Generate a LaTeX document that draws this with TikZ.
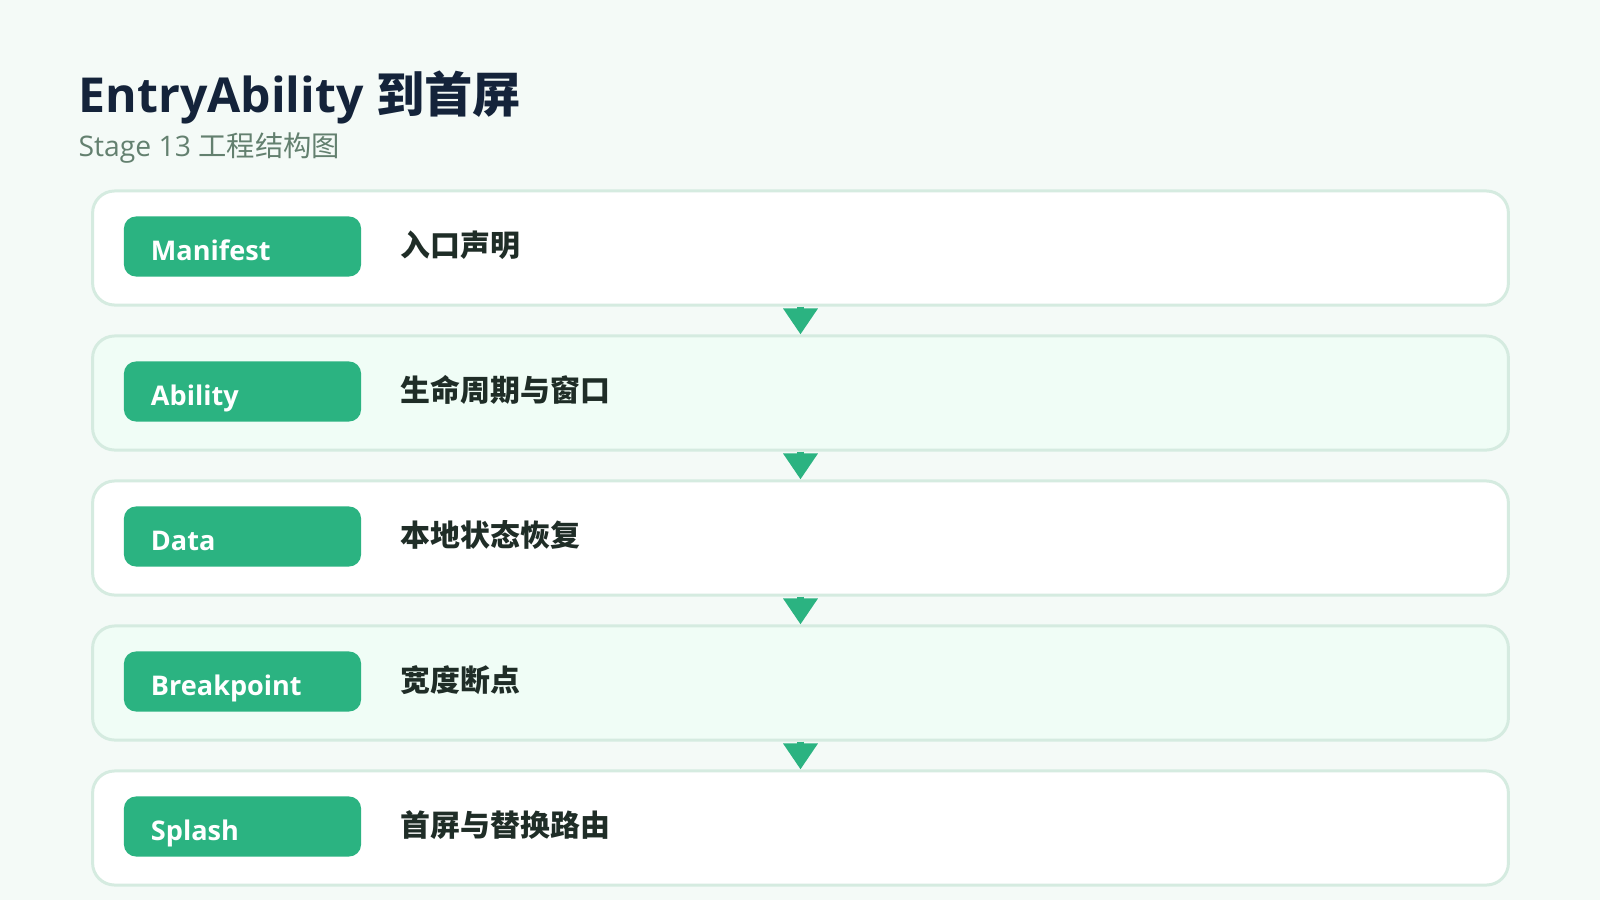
\documentclass[tikz,border=0pt]{standalone}
\usepackage{fontspec}
\setmainfont{Open Sans}
\newfontfamily\zh{Noto Sans CJK SC}
\usetikzlibrary{arrows.meta}

\definecolor{pagebg}{HTML}{F4FAF7}
\definecolor{rowline}{HTML}{D5EBE0}
\definecolor{rowmint}{HTML}{F0FDF6}
\definecolor{pillgreen}{HTML}{2BB381}
\definecolor{titleink}{HTML}{14233A}
\definecolor{subink}{HTML}{63806F}
\definecolor{rowink}{HTML}{1F2D27}

\begin{document}
\begin{tikzpicture}[x=0.01cm,y=-0.01cm,
    row/.style={draw=rowline, line width=0.85pt, rounded corners=0.22cm,
        minimum width=14.15cm, minimum height=1.14cm, inner sep=0pt},
    pill/.style={fill=pillgreen, rounded corners=0.12cm, text=white,
        font=\fontsize{7.7pt}{9pt}\selectfont\bfseries, text width=1.83cm,
        align=left, inner xsep=0.27cm, minimum height=0.6cm, inner ysep=0pt,
        text height=8.2pt, text depth=0pt},
    stage/.style={anchor=west, text=rowink, inner sep=0pt,
        font=\zh\fontsize{8.5pt}{10pt}\selectfont\bfseries},
    flow/.style={draw=pillgreen, line width=2pt,
        -{Triangle[width=9.4pt,length=7.4pt]}}]
    \fill[pagebg] (0,0) rectangle (1600,900);
    \useasboundingbox (0,0) rectangle (1600,900);

    \node[anchor=base west, inner sep=0pt, text=titleink,
        font=\fontsize{13.7pt}{16pt}\selectfont\bfseries] (title) at (78,112)
        {EntryAbility {\zh 到首屏}};
    \node[anchor=base west, inner sep=0pt, text=subink,
        font=\fontsize{8.05pt}{10pt}\selectfont] (subtitle) at (78,156)
        {Stage 13 {\zh 工程结构图}};

    \node[row, fill=white] (r1) at (800.5,248) {};
    \node[row, fill=rowmint] (r2) at (800.5,393) {};
    \node[row, fill=white] (r3) at (800.5,538) {};
    \node[row, fill=rowmint] (r4) at (800.5,683) {};
    \node[row, fill=white] (r5) at (800.5,828) {};

    \node[pill] (p1) at (242.5,246.5) {Manifest};
    \node[pill] (p2) at (242.5,391.5) {Ability};
    \node[pill] (p3) at (242.5,536.5) {Data};
    \node[pill] (p4) at (242.5,681.5) {Breakpoint};
    \node[pill] (p5) at (242.5,826.5) {Splash};

    \node[stage] (s1) at (400,245) {入口声明};
    \node[stage] (s2) at (400,390) {生命周期与窗口};
    \node[stage] (s3) at (400,535) {本地状态恢复};
    \node[stage] (s4) at (400,680) {宽度断点};
    \node[stage] (s5) at (400,825) {首屏与替换路由};

    % arrows between the stages
    \draw[flow] (r1) -- (r2);
    \draw[flow] (r2) -- (r3);
    \draw[flow] (r3) -- (r4);
    \draw[flow] (r4) -- (r5);
\end{tikzpicture}
\end{document}
